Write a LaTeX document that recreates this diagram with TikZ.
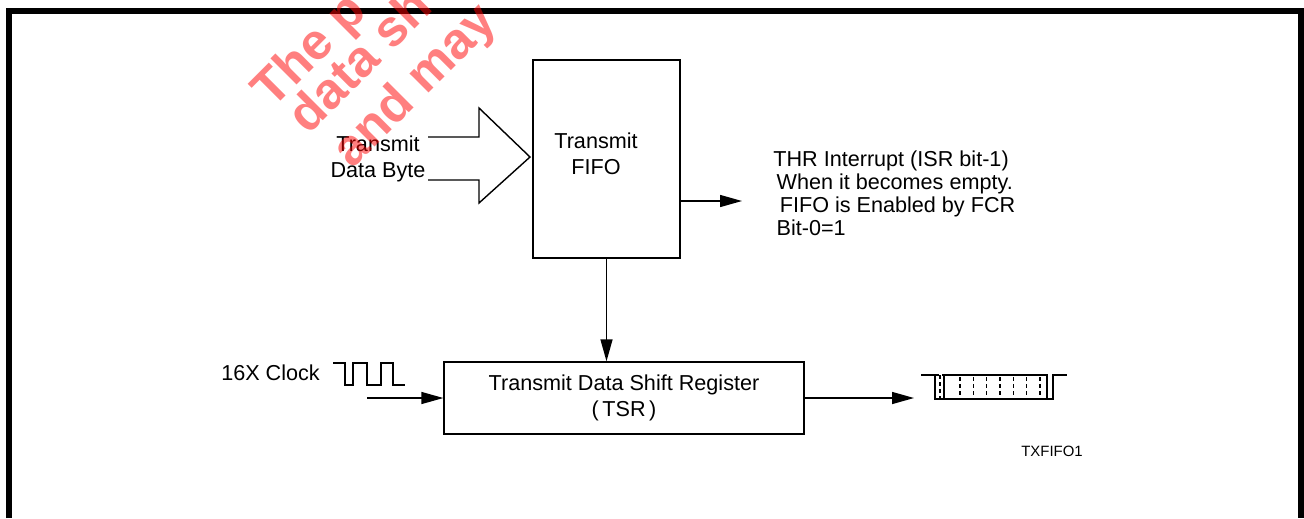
\documentclass[tikz,border=0pt]{standalone}
\usepackage{fontspec}
\setmainfont{Liberation Sans}
\usetikzlibrary{arrows.meta}
\tikzset{
  blk/.style={draw,line width=0.8pt,inner sep=0pt},
  arr/.style={line width=0.8pt,-{Triangle[length=0.44cm,width=0.24cm]}},
  wave/.style={line width=0.8pt},
  wmark/.style={red,opacity=0.5,font=\fontsize{29}{29}\selectfont\bfseries,rotate=45,anchor=base west,inner sep=0pt}
}

\begin{document}
\begin{tikzpicture}[x=0.02cm,y=-0.02cm,font=\fontsize{12.3}{15}\selectfont]
\useasboundingbox (0,0) rectangle (1304,518);
\draw[line width=0.12cm] (9,518) -- (9,11) -- (1301,11) -- (1301,518);

\node[blk,minimum width=2.94cm,minimum height=3.96cm] (fifo) at (606.5,159) {};
\node[align=center] (fifotxt) at (596,154) {Transmit\\FIFO};
\node[blk,minimum width=7.2cm,minimum height=1.44cm,align=center] (tsr) at (624,398) {Transmit Data Shift Register\\(\hspace{2pt}TSR\hspace{2pt})};
\node[align=center] (byte) at (378,159) {Transmit\\Data Byte};
\node[align=left,anchor=north west,inner sep=0pt,font=\fontsize{12.3}{13.2}\selectfont] (thr) at (773,150) {THR Interrupt (ISR bit-1)\\\hspace{0.15em}When it becomes empty.\\\hspace{0.3em}FIFO is Enabled by FCR\\\hspace{0.15em}Bit-0=1};
\node[anchor=east] (clk) at (326,373) {16X Clock};
\node[font=\fontsize{8.5}{10}\selectfont] (txf) at (1052,451) {TXFIFO1};

\coordinate (thr0) at (742,201);
\coordinate (clk0) at (367,398);
\coordinate (out0) at (914,398);

\draw[line width=0.8pt] (428,137) -- (479,137) -- (479,108) -- (530,157) -- (479,203) -- (479,180) -- (428,180);
\draw[arr] (fifo.east |- thr0) -- (thr0);
\draw[arr] (fifo.south) -- (fifo.south |- tsr.north);
\draw[arr] (clk0) -- (tsr.west);
\draw[arr] (tsr.east) -- (out0);

\draw[wave] (333,363) -- (345,363) -- (345,385) -- (353,385) -- (353,363) -- (367,363) -- (367,385) -- (381,385) -- (381,363) -- (393,363) -- (393,385) -- (405,385);

\draw[wave] (921,375) -- (935,375) -- (935,399) -- (1053,399) -- (1053,375) -- (1067,375);
\draw[wave,dash pattern=on 2pt off 2pt] (935,375) -- (944,375) (940,375) -- (940,399);
\draw[wave] (944,399) -- (944,375) -- (1047,375) -- (1047,399);
\foreach \i in {0,...,6}
\draw[wave,dash pattern=on 2pt off 2pt] ({960+13.3*\i},377) -- ({960+13.3*\i},397);

\node[wmark] (wm1) at (272,110) {The p};
\node[wmark] (wm2) at (308,136) {data sh};
\node[wmark] (wm3) at (352,170) {and may};
\end{tikzpicture}
\end{document}
